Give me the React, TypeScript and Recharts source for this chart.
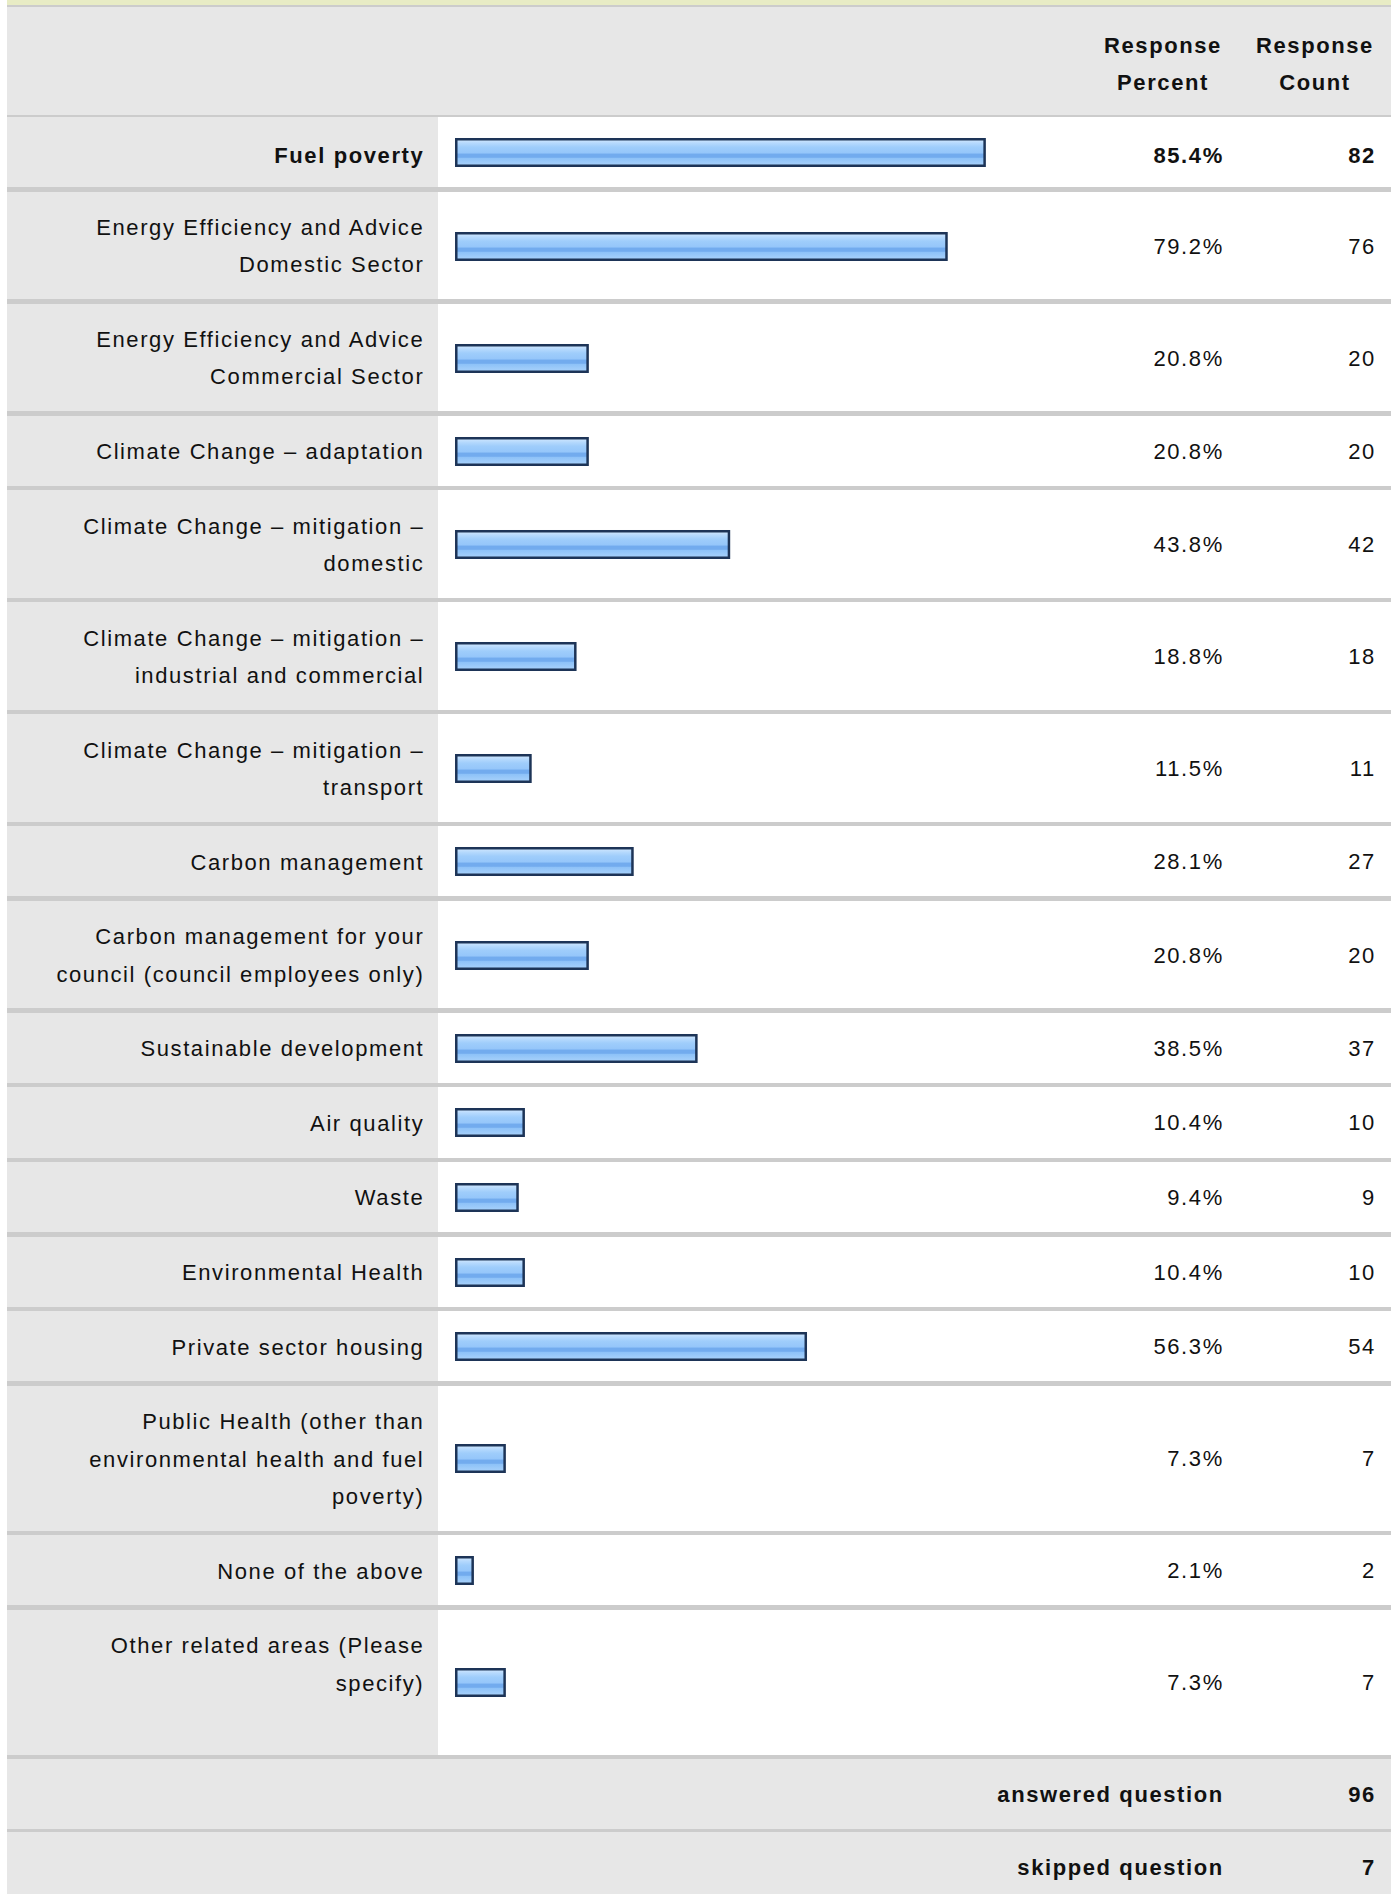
import { BarChart, Bar, XAxis, YAxis } from "recharts";

const categories = [
  "Fuel poverty",
  "Energy Efficiency and Advice\nDomestic Sector",
  "Energy Efficiency and Advice\nCommercial Sector",
  "Climate Change – adaptation",
  "Climate Change – mitigation –\ndomestic",
  "Climate Change – mitigation –\nindustrial and commercial",
  "Climate Change – mitigation –\ntransport",
  "Carbon management",
  "Carbon management for your\ncouncil (council employees only)",
  "Sustainable development",
  "Air quality",
  "Waste",
  "Environmental Health",
  "Private sector housing",
  "Public Health (other than\nenvironmental health and fuel\npoverty)",
  "None of the above",
  "Other related areas (Please\nspecify)\n",
];
const responsePercent = [85.4, 79.2, 20.8, 20.8, 43.8, 18.8, 11.5, 28.1, 20.8, 38.5, 10.4, 9.4, 10.4, 56.3, 7.3, 2.1, 7.3];
const responseCount = [82, 76, 20, 20, 42, 18, 11, 27, 20, 37, 10, 9, 10, 54, 7, 2, 7];
const boldRows = ["Fuel poverty"];
const headerLabels = ["Response\nPercent", "Response\nCount"];
const answeredQuestion = 96;
const skippedQuestion = 7;

const GREY = "#e7e7e7";
const LINE = "#cccccc";
const INK = "#111111";
const LH = 37.35;
const LABEL_W = 431;
const BAR_W = 649;
const COL_W = 152;

const BarShape = (props: any) => {
  const { x, y, width, height, fill } = props;
  const sw = 2.5;
  return (
    <rect
      x={x + sw / 2}
      y={y + sw / 2}
      width={Math.max(width + 6 - sw, 1)}
      height={height - sw}
      fill={fill}
      stroke="#1d3457"
      strokeWidth={sw}
    />
  );
};

const RowBar = ({ name, value, height, idx }: { name: string; value: number; height: number; idx: number }) => (
  <BarChart
    width={BAR_W}
    height={height}
    data={[{ name, value }]}
    layout="vertical"
    margin={{ top: 1, right: 17.4, bottom: 0, left: 17 }}
  >
    <defs>
      <linearGradient id={`barFill${idx}`} x1="0" y1="0" x2="0" y2="1">
        <stop offset="0%" stopColor="#d3e8fe" />
        <stop offset="15%" stopColor="#b5d9fd" />
        <stop offset="30%" stopColor="#9fcdfb" />
        <stop offset="52%" stopColor="#95c6fa" />
        <stop offset="56%" stopColor="#72abee" />
        <stop offset="68%" stopColor="#72abee" />
        <stop offset="72%" stopColor="#8ec2f8" />
        <stop offset="100%" stopColor="#a9d2fb" />
      </linearGradient>
    </defs>
    <XAxis type="number" domain={[0, 100]} hide />
    <YAxis type="category" dataKey="name" hide />
    <Bar dataKey="value" barSize={29} fill={`url(#barFill${idx})`} shape={BarShape} isAnimationActive={false} />
  </BarChart>
);

const Lines = ({ text }: { text: string }) => (
  <>
    {text.split("\n").map((t, i) => (
      <div key={i} style={{ height: LH, lineHeight: `${LH}px`, whiteSpace: "nowrap" }}>
        {t}
      </div>
    ))}
  </>
);

const Separator = ({ h = 4.6 }: { h?: number }) => <div style={{ height: h, background: LINE }} />;

export default function App() {
  return (
    <div
      style={{
        position: "absolute",
        left: 7,
        top: 0,
        width: LABEL_W + BAR_W + COL_W * 2,
        fontFamily: '"Liberation Sans", Arial, sans-serif',
        fontSize: 22,
        letterSpacing: "1.6px",
        color: INK,
      }}
    >
      <div style={{ height: 5, background: "#e8ecc5" }} />
      <Separator h={2} />
      <div style={{ display: "flex", height: 108, background: GREY, fontWeight: "bold" }}>
        <div style={{ width: LABEL_W + BAR_W }} />
        {headerLabels.map((h) => (
          <div
            key={h}
            style={{
              width: COL_W,
              textAlign: "center",
              display: "flex",
              flexDirection: "column",
              justifyContent: "center",
              position: "relative",
              top: 3,
            }}
          >
            <Lines text={h} />
          </div>
        ))}
      </div>
      <Separator h={2} />
      {categories.map((cat, i) => {
        const n = cat.split("\n").length;
        const h = 32.7 + LH * n;
        const bold = boldRows.includes(cat);
        const dy = bold ? 3.5 : 1;
        return (
          <div key={cat}>
            <div style={{ display: "flex", height: h, fontWeight: bold ? "bold" : "normal" }}>
              <div
                style={{
                  width: LABEL_W,
                  boxSizing: "border-box",
                  paddingRight: 13.7,
                  paddingTop: dy * 2,
                  background: GREY,
                  textAlign: "right",
                  display: "flex",
                  flexDirection: "column",
                  justifyContent: "center",
                }}
              >
                <Lines text={cat} />
              </div>
              <div style={{ width: BAR_W, background: "#fff" }}>
                <RowBar name={cat} value={responsePercent[i]} height={h} idx={i} />
              </div>
              <div
                style={{
                  width: COL_W,
                  boxSizing: "border-box",
                  paddingRight: 15.2,
                  paddingTop: dy * 2,
                  background: "#fff",
                  textAlign: "right",
                  lineHeight: `${h - dy * 2}px`,
                }}
              >
                {responsePercent[i].toFixed(1)}%
              </div>
              <div
                style={{
                  width: COL_W,
                  boxSizing: "border-box",
                  paddingRight: 15.2,
                  paddingTop: dy * 2,
                  background: "#fff",
                  textAlign: "right",
                  lineHeight: `${h - dy * 2}px`,
                }}
              >
                {responseCount[i]}
              </div>
            </div>
            <Separator />
          </div>
        );
      })}
      {[
        ["answered question", answeredQuestion],
        ["skipped question", skippedQuestion],
      ].map(([label, v], i) => (
        <div key={String(label)}>
          {i > 0 && <Separator h={3} />}
          <div style={{ display: "flex", height: 70, background: GREY, fontWeight: "bold", lineHeight: "72px" }}>
            <div style={{ width: LABEL_W + BAR_W + COL_W, boxSizing: "border-box", paddingRight: 15.2, textAlign: "right" }}>
              {label}
            </div>
            <div style={{ width: COL_W, boxSizing: "border-box", paddingRight: 15.2, textAlign: "right" }}>{v}</div>
          </div>
        </div>
      ))}
    </div>
  );
}
